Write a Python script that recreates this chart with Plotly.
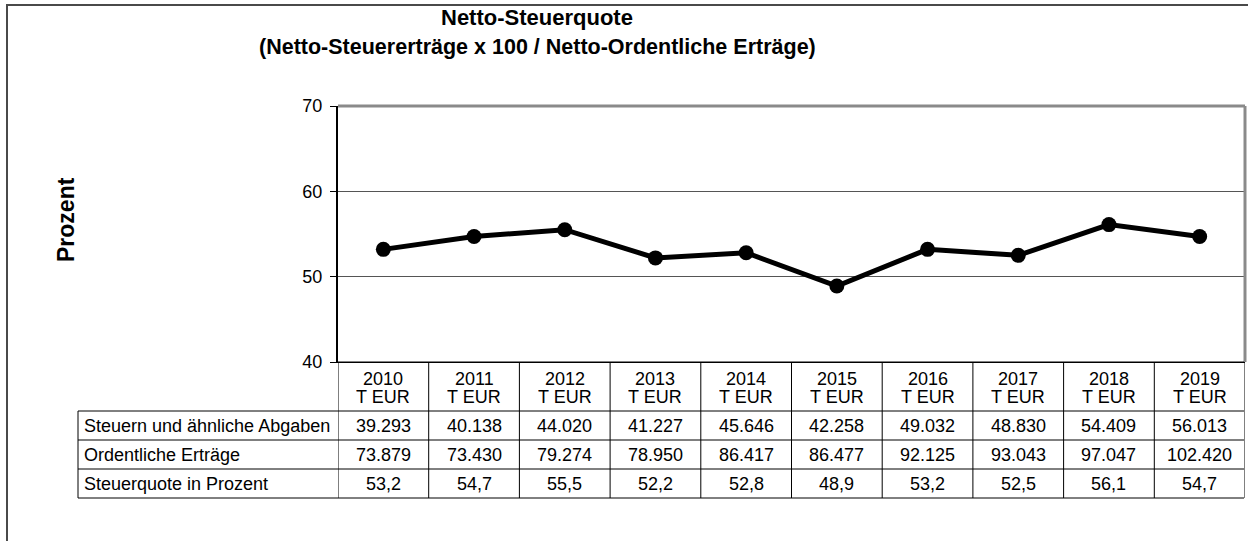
import plotly.graph_objects as go

# ---- data ----
years = ["2010", "2011", "2012", "2013", "2014", "2015", "2016", "2017", "2018", "2019"]
unit_label = "T EUR"
steuern = [39293, 40138, 44020, 41227, 45646, 42258, 49032, 48830, 54409, 56013]
ertraege = [73879, 73430, 79274, 78950, 86417, 86477, 92125, 93043, 97047, 102420]
quote = [53.2, 54.7, 55.5, 52.2, 52.8, 48.9, 53.2, 52.5, 56.1, 54.7]
row_labels = ["Steuern und ähnliche Abgaben", "Ordentliche Erträge", "Steuerquote in Prozent"]
y_ticks = [40, 50, 60, 70]
title_line1 = "Netto-Steuerquote"
title_line2 = "(Netto-Steuererträge x 100 / Netto-Ordentliche Erträge)"
y_title = "Prozent"

# ---- layout geometry (pixels) ----
W, H = 1248, 541
FONT = "Liberation Sans, Arial, sans-serif"


def px(x):
    return x / W


def py(y):
    return 1 - y / H


PLOT_L, PLOT_R, PLOT_T, PLOT_B = 338, 1245, 106, 362
TABLE_L = 78
ROW_EDGES = [362, 411, 440, 469, 498]


def fmt_int(v):
    return f"{v:,}".replace(",", ".")


def fmt_dec(v):
    return f"{v:.1f}".replace(".", ",")


fig = go.Figure()
fig.add_trace(go.Scatter(
    x=years, y=quote, mode="lines+markers",
    line=dict(color="black", width=5),
    marker=dict(color="black", size=15),
    showlegend=False, hoverinfo="x+y",
))

shapes = []
annotations = []

# outer frame
shapes.append(dict(type="rect", xref="paper", yref="paper",
                   x0=px(7), x1=1.05, y0=-0.05, y1=py(5),
                   line=dict(color="#4a4a4a", width=2), layer="below"))
# grey plot border (top, right)
shapes.append(dict(type="line", xref="paper", yref="paper",
                   x0=px(PLOT_L), x1=px(PLOT_R), y0=py(PLOT_T), y1=py(PLOT_T),
                   line=dict(color="#8a8a8a", width=3)))
shapes.append(dict(type="line", xref="paper", yref="paper",
                   x0=px(PLOT_R), x1=px(PLOT_R), y0=py(PLOT_T), y1=py(PLOT_B),
                   line=dict(color="#8a8a8a", width=3)))

# table: horizontal lines
for i, yy in enumerate(ROW_EDGES):
    x0 = PLOT_L if i == 0 else TABLE_L
    shapes.append(dict(type="line", xref="paper", yref="paper",
                       x0=px(x0), x1=px(PLOT_R - 1), y0=py(yy), y1=py(yy),
                       line=dict(color="black", width=1)))
# table: vertical lines between year columns
n = len(years)
for k in range(n + 1):
    shapes.append(dict(type="line", xref="x", yref="paper",
                       x0=k - 0.5, x1=k - 0.5, y0=py(ROW_EDGES[0]), y1=py(ROW_EDGES[-1]),
                       line=dict(color="black", width=1)))
# left edge of label column
shapes.append(dict(type="line", xref="paper", yref="paper",
                   x0=px(TABLE_L), x1=px(TABLE_L), y0=py(ROW_EDGES[1]), y1=py(ROW_EDGES[-1]),
                   line=dict(color="black", width=1)))

tfont = dict(family=FONT, size=18, color="black")

# header cells (two separate single-line texts)
for i, yr in enumerate(years):
    annotations.append(dict(xref="x", yref="paper", x=i, y=py(378),
                            text=yr, showarrow=False, height=17,
                            font=tfont, xanchor="center", yanchor="middle"))
    annotations.append(dict(xref="x", yref="paper", x=i, y=py(396),
                            text=unit_label, showarrow=False, height=17,
                            font=tfont, xanchor="center", yanchor="middle"))

rows = [[fmt_int(v) for v in steuern],
        [fmt_int(v) for v in ertraege],
        [fmt_dec(v) for v in quote]]
for r, (label, vals) in enumerate(zip(row_labels, rows)):
    cy = (ROW_EDGES[r + 1] + ROW_EDGES[r + 2]) / 2
    annotations.append(dict(xref="paper", yref="paper", x=px(TABLE_L + 4), y=py(cy),
                            text=label, showarrow=False, font=tfont,
                            xanchor="left", yanchor="middle"))
    for i, v in enumerate(vals):
        annotations.append(dict(xref="x", yref="paper", x=i, y=py(cy),
                                text=v, showarrow=False, font=tfont,
                                xanchor="center", yanchor="middle"))

# titles
annotations.append(dict(xref="paper", yref="paper", x=px(537), y=py(18),
                        text=f"<b>{title_line1}</b>", showarrow=False,
                        font=dict(family=FONT, size=22, color="black"),
                        xanchor="center", yanchor="middle"))
annotations.append(dict(xref="paper", yref="paper", x=px(537), y=py(47),
                        text=f"<b>{title_line2}</b>", showarrow=False,
                        font=dict(family=FONT, size=21.5, color="black"),
                        xanchor="center", yanchor="middle"))
annotations.append(dict(xref="paper", yref="paper", x=px(66), y=py(220),
                        text=f"<b>{y_title}</b>", showarrow=False, textangle=-90,
                        font=dict(family=FONT, size=23, color="black"),
                        xanchor="center", yanchor="middle"))

fig.update_layout(
    width=W, height=H, autosize=False,
    margin=dict(l=0, r=0, t=0, b=0, pad=0, autoexpand=False),
    paper_bgcolor="white", plot_bgcolor="white",
    font=dict(family=FONT, size=18, color="black"),
    shapes=shapes, annotations=annotations,
    xaxis=dict(domain=[px(PLOT_L), px(PLOT_R)], type="category",
               range=[-0.5, n - 0.5], showticklabels=False, ticks="",
               showgrid=False, zeroline=False, showline=True, automargin=False,
               linecolor="black", linewidth=1, fixedrange=True),
    yaxis=dict(domain=[py(PLOT_B), py(PLOT_T)], range=[40, 70],
               tickvals=y_ticks, ticks="outside", ticklen=6, tickcolor="black",
               ticklabelstandoff=4, automargin=False,
               tickfont=dict(family=FONT, size=18, color="black"),
               showgrid=True, gridcolor="#555555", gridwidth=1,
               zeroline=False, showline=True, linecolor="black", linewidth=2,
               fixedrange=True),
)

fig.write_html("out.html", config={"displayModeBar": False},
               post_script="document.body.style.margin='0';document.body.style.overflow='hidden';")
